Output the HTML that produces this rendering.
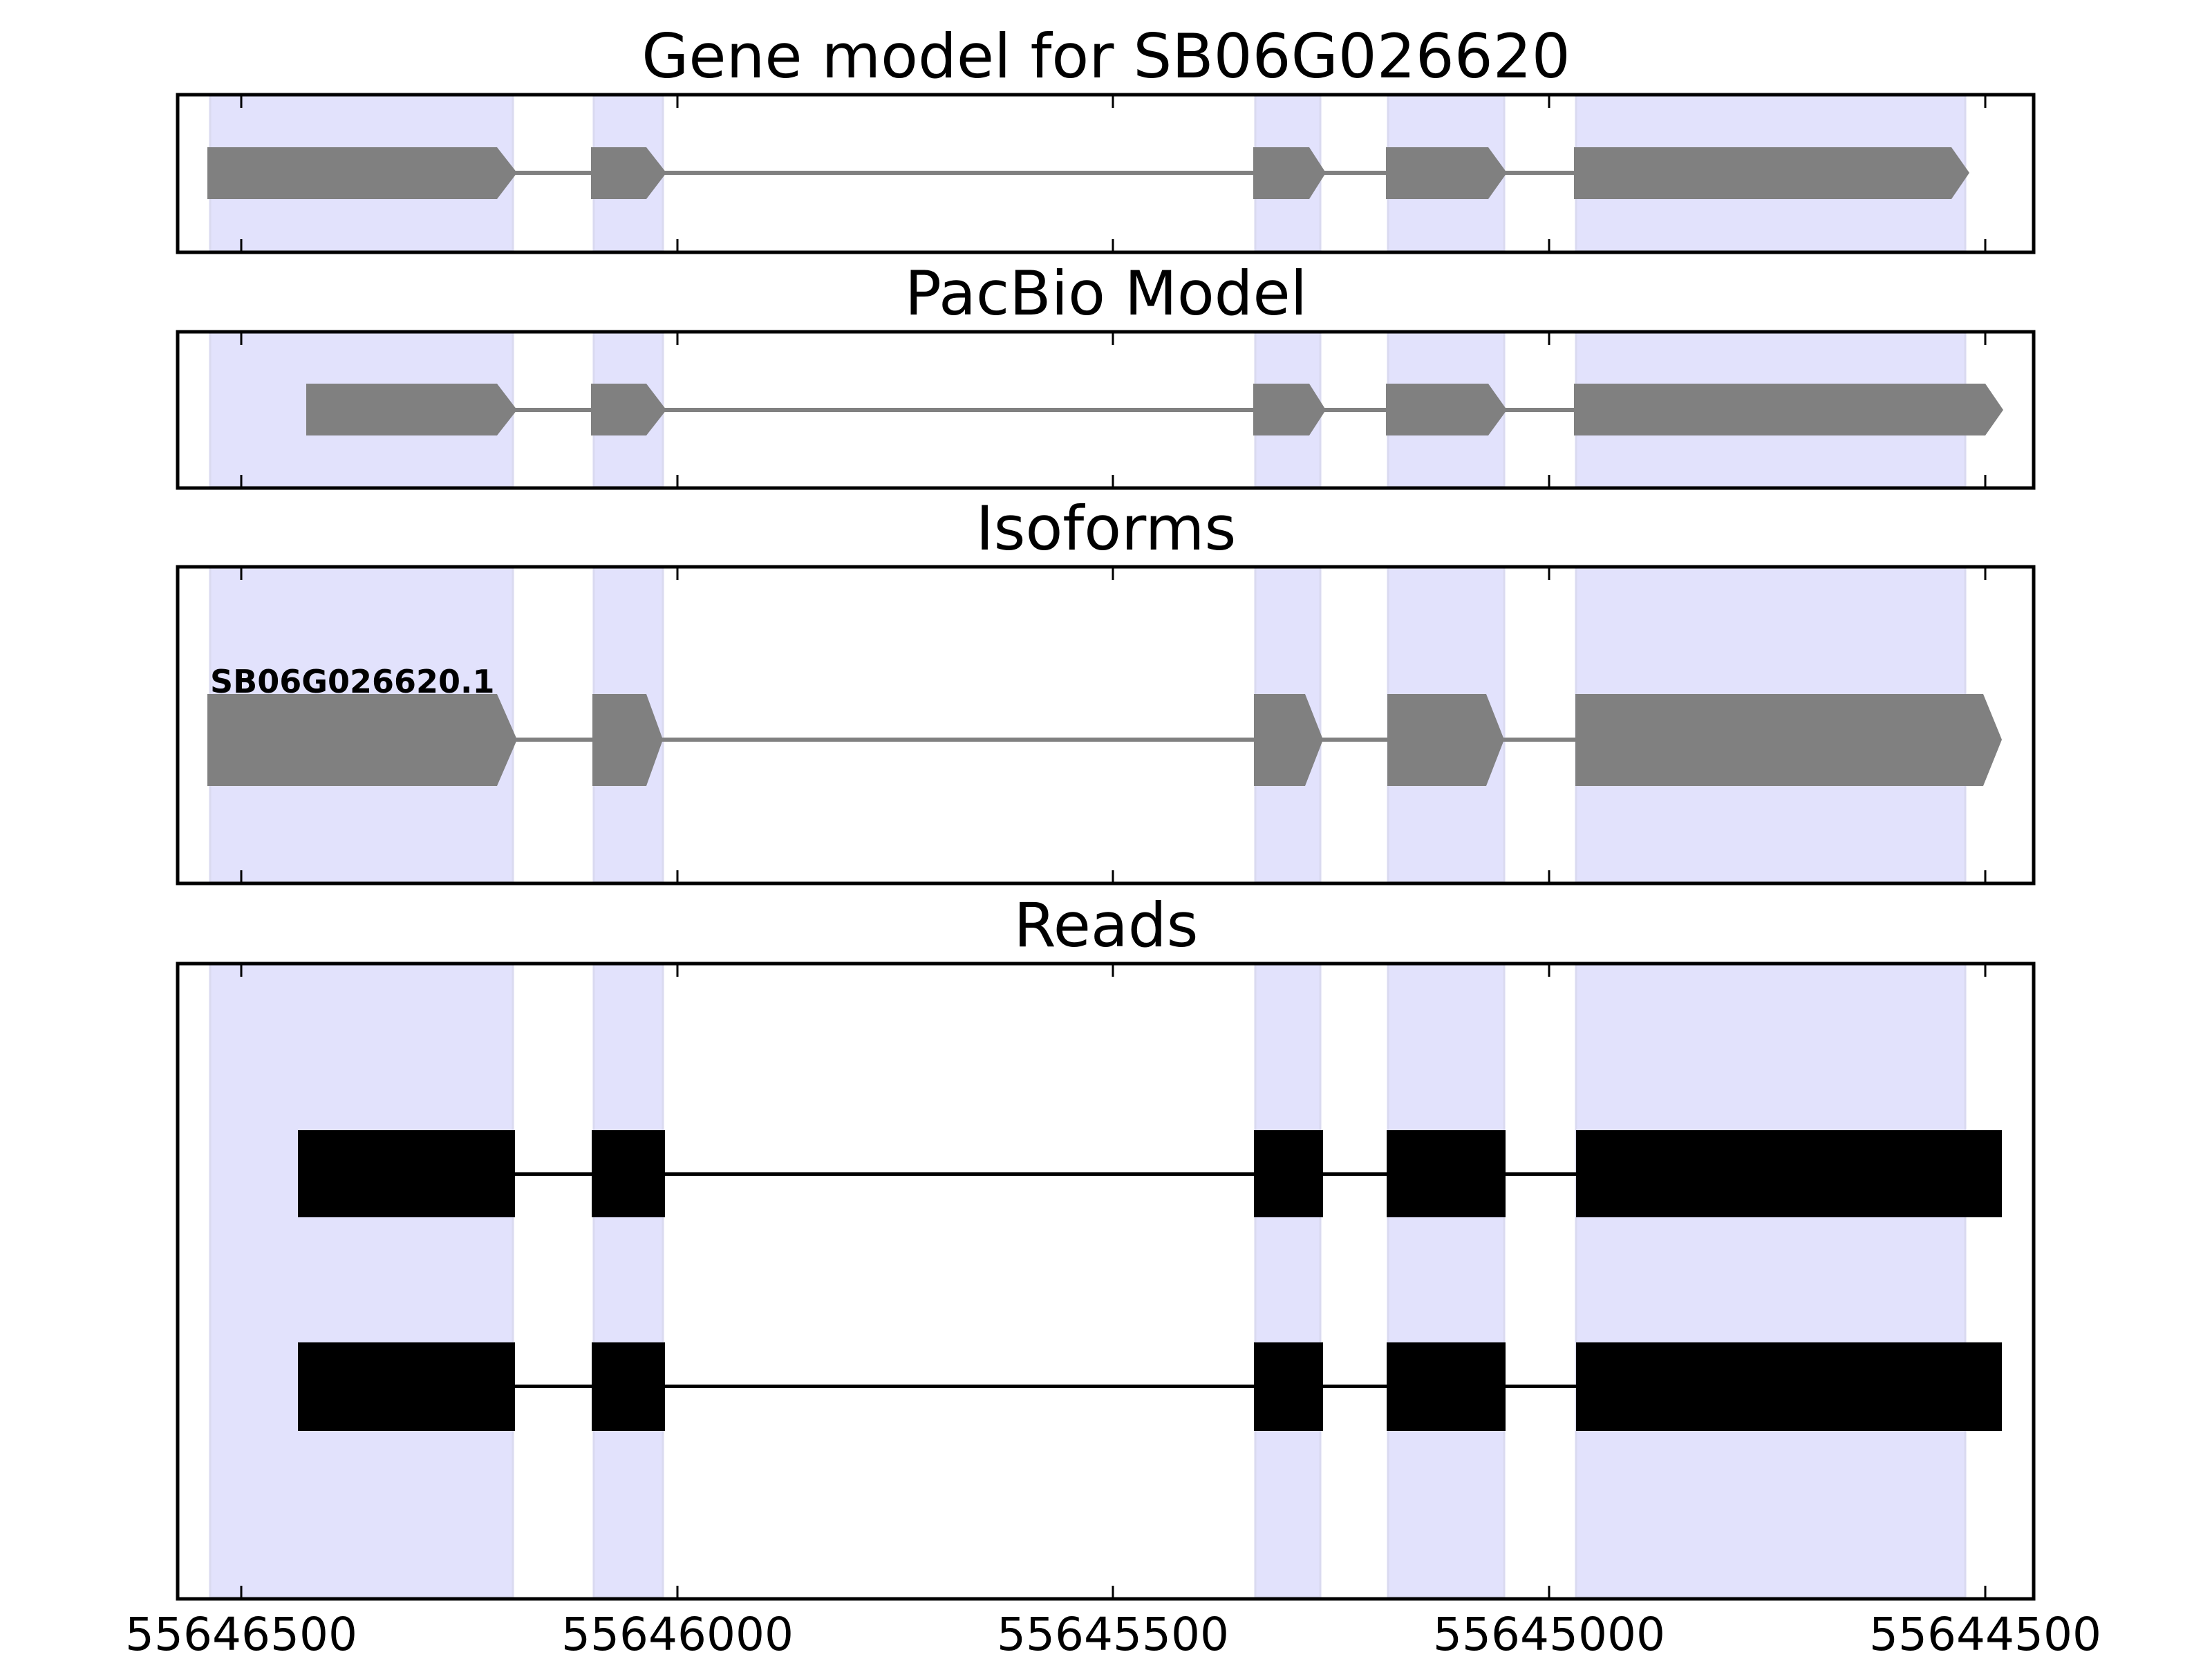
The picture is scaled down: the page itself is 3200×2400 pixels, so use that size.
<!DOCTYPE html>
<html><head><meta charset="utf-8"><style>
html,body{margin:0;padding:0;background:#fff;}
svg{display:block;}
</style></head><body>
<svg width="3200" height="2400" viewBox="0 0 3200 2400" xmlns="http://www.w3.org/2000/svg" font-family="'DejaVu Sans','Liberation Sans',sans-serif">
<!-- Titles -->
<g font-size="88" text-anchor="middle" fill="#000">
<text x="1600" y="112">Gene model for SB06G026620</text>
<text x="1600" y="455">PacBio Model</text>
<text x="1600" y="795">Isoforms</text>
<text x="1600" y="1369">Reads</text>
</g>

<g fill="#e2e2fc" stroke="#dadaf0" stroke-width="3">
<rect x="304" y="137" width="438" height="226"/><rect x="859" y="137" width="100" height="226"/><rect x="1816" y="137" width="94" height="226"/><rect x="2008" y="137" width="168" height="226"/><rect x="2280" y="137" width="563" height="226"/>
<rect x="304" y="480" width="438" height="224"/><rect x="859" y="480" width="100" height="224"/><rect x="1816" y="480" width="94" height="224"/><rect x="2008" y="480" width="168" height="224"/><rect x="2280" y="480" width="563" height="224"/>
<rect x="304" y="820" width="438" height="456"/><rect x="859" y="820" width="100" height="456"/><rect x="1816" y="820" width="94" height="456"/><rect x="2008" y="820" width="168" height="456"/><rect x="2280" y="820" width="563" height="456"/>
<rect x="304" y="1394" width="438" height="917"/><rect x="859" y="1394" width="100" height="917"/><rect x="1816" y="1394" width="94" height="917"/><rect x="2008" y="1394" width="168" height="917"/><rect x="2280" y="1394" width="563" height="917"/>
</g>

<!-- Panel 1 gene model -->
<g fill="#808080">
<rect x="300" y="247" width="2545" height="6"/>
<polygon points="300,213 719,213 748,250 719,288 300,288"/>
<polygon points="855,213 935,213 964,250 935,288 855,288"/>
<polygon points="1813,213 1894,213 1918,250 1894,288 1813,288"/>
<polygon points="2005,213 2153,213 2180,250 2153,288 2005,288"/>
<polygon points="2277,213 2823,213 2849,250 2823,288 2277,288"/>
</g>
<!-- Panel 2 -->
<g fill="#808080">
<rect x="443" y="590" width="2440" height="6"/>
<polygon points="443,555 719,555 748,593 719,630 443,630"/>
<polygon points="855,555 935,555 964,593 935,630 855,630"/>
<polygon points="1813,555 1894,555 1918,593 1894,630 1813,630"/>
<polygon points="2005,555 2153,555 2180,593 2153,630 2005,630"/>
<polygon points="2277,555 2872,555 2898,593 2872,630 2277,630"/>
</g>
<!-- Panel 3 -->
<g fill="#808080">
<rect x="300" y="1067" width="2580" height="6"/>
<polygon points="300,1004 719,1004 748,1070 719,1137 300,1137"/>
<polygon points="857,1004 935,1004 959,1070 935,1137 857,1137"/>
<polygon points="1814,1004 1888,1004 1914,1070 1888,1137 1814,1137"/>
<polygon points="2007,1004 2150,1004 2176,1070 2150,1137 2007,1137"/>
<polygon points="2279,1004 2869,1004 2896,1070 2869,1137 2279,1137"/>
</g>
<text x="304" y="1002" font-size="46" font-weight="bold" fill="#000">SB06G026620.1</text>
<!-- Panel 4 reads -->
<g fill="#000">
<rect x="431" y="1696" width="2460" height="5"/>
<rect x="431" y="1635" width="314" height="126"/>
<rect x="856" y="1635" width="106" height="126"/>
<rect x="1814" y="1635" width="100" height="126"/>
<rect x="2006" y="1635" width="172" height="126"/>
<rect x="2280" y="1635" width="616" height="126"/>
<rect x="431" y="2003" width="2460" height="5"/>
<rect x="431" y="1942" width="314" height="128"/>
<rect x="856" y="1942" width="106" height="128"/>
<rect x="1814" y="1942" width="100" height="128"/>
<rect x="2006" y="1942" width="172" height="128"/>
<rect x="2280" y="1942" width="616" height="128"/>
</g>

<g fill="none" stroke="#000" stroke-width="5">
<rect x="257" y="137" width="2685" height="228"/>
<rect x="257" y="480" width="2685" height="226"/>
<rect x="257" y="820" width="2685" height="458"/>
<rect x="257" y="1394" width="2685" height="919"/>
</g>
<g stroke="#000" stroke-width="3">
<path d="M349 137v19M980 137v19M1610 137v19M2241 137v19M2872 137v19 M349 365v-19M980 365v-19M1610 365v-19M2241 365v-19M2872 365v-19"/>
<path d="M349 480v19M980 480v19M1610 480v19M2241 480v19M2872 480v19 M349 706v-19M980 706v-19M1610 706v-19M2241 706v-19M2872 706v-19"/>
<path d="M349 820v19M980 820v19M1610 820v19M2241 820v19M2872 820v19 M349 1278v-19M980 1278v-19M1610 1278v-19M2241 1278v-19M2872 1278v-19"/>
<path d="M349 1394v19M980 1394v19M1610 1394v19M2241 1394v19M2872 1394v19 M349 2313v-19M980 2313v-19M1610 2313v-19M2241 2313v-19M2872 2313v-19"/>
</g>
<g font-size="66" text-anchor="middle" fill="#000">
<text x="349" y="2387">55646500</text>
<text x="980" y="2387">55646000</text>
<text x="1610" y="2387">55645500</text>
<text x="2241" y="2387">55645000</text>
<text x="2872" y="2387">55644500</text>
</g>
</svg>
</body></html>
